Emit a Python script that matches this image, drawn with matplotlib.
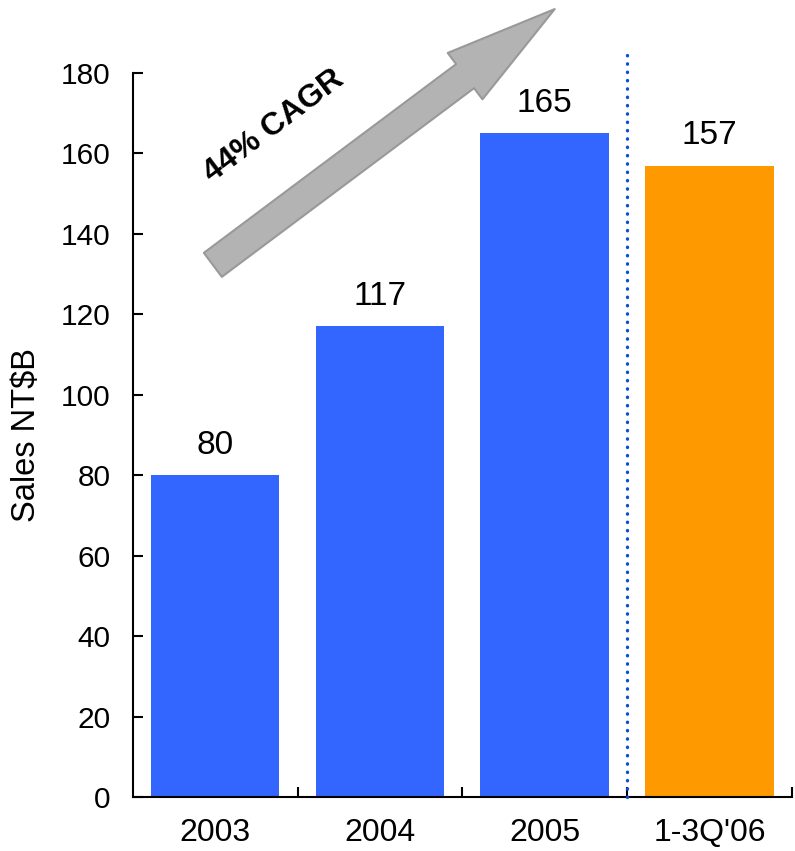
import matplotlib
matplotlib.use("Agg")
import matplotlib.pyplot as plt
import numpy as np

plt.rcParams["font.family"] = ["Liberation Sans", "DejaVu Sans"]

# === Data ===
periods = ["2003", "2004", "2005", "1-3Q'06"]
sales = [80, 117, 165, 157]
bar_colors = ["#3366ff", "#3366ff", "#3366ff", "#ff9900"]
cagr_label = "44% CAGR"

x = np.arange(len(periods))

fig = plt.figure(figsize=(7.95, 8.51), dpi=100)
ax = fig.add_axes([0.167, 0.0635, 0.829, 0.8507])

ax.bar(x, sales, width=0.78, color=bar_colors, zorder=2)

# value labels above bars
for xi, v in zip(x, sales):
    ax.annotate(f"{v}", (xi, v), xytext=(0, 15.5), textcoords="offset points",
                ha="center", va="baseline", fontsize=24)

# separator between full years and partial year
ax.plot([2.5, 2.5], [0, 185.5], color="#0a50d0", lw=2.4,
        linestyle=(0, (0.1, 2.4)), dash_capstyle="round", clip_on=False, zorder=3)

# growth arrow
ax.annotate("", xy=(2.061, 195.9), xytext=(-0.014, 132.3),
            xycoords="data", textcoords="data", annotation_clip=False,
            arrowprops=dict(arrowstyle="simple, head_length=0.806, head_width=0.417, tail_width=0.216",
                            mutation_scale=100, shrinkA=0, shrinkB=0,
                            fc="#b3b3b3", ec="#999999", lw=1.5))
ax.text(0.355, 166.8, cagr_label, rotation=37, rotation_mode="anchor",
        ha="center", va="center", fontsize=23, fontweight="bold")

# axes styling
ax.set_xlim(-0.5, 3.5)
ax.set_ylim(0, 180)
ax.set_yticks(np.arange(0, 181, 20))
ax.set_xticks(x + 0.5)
ax.set_xticklabels([])
ax.set_xticks(x, periods, minor=True)
ax.tick_params(axis="x", which="major", direction="in", length=7, width=1.5)
ax.tick_params(axis="x", which="minor", length=0, pad=15, labelsize=23)
ax.tick_params(axis="y", direction="in", length=7, width=1.5, pad=16, labelsize=21.5)

for s in ["top", "right"]:
    ax.spines[s].set_visible(False)
for s in ["left", "bottom"]:
    ax.spines[s].set_linewidth(1.5)

ax.set_ylabel("Sales NT$B", fontsize=23.5)
ax.yaxis.set_label_coords(-0.137, 0.5)

fig.savefig("out.png", dpi=100)
